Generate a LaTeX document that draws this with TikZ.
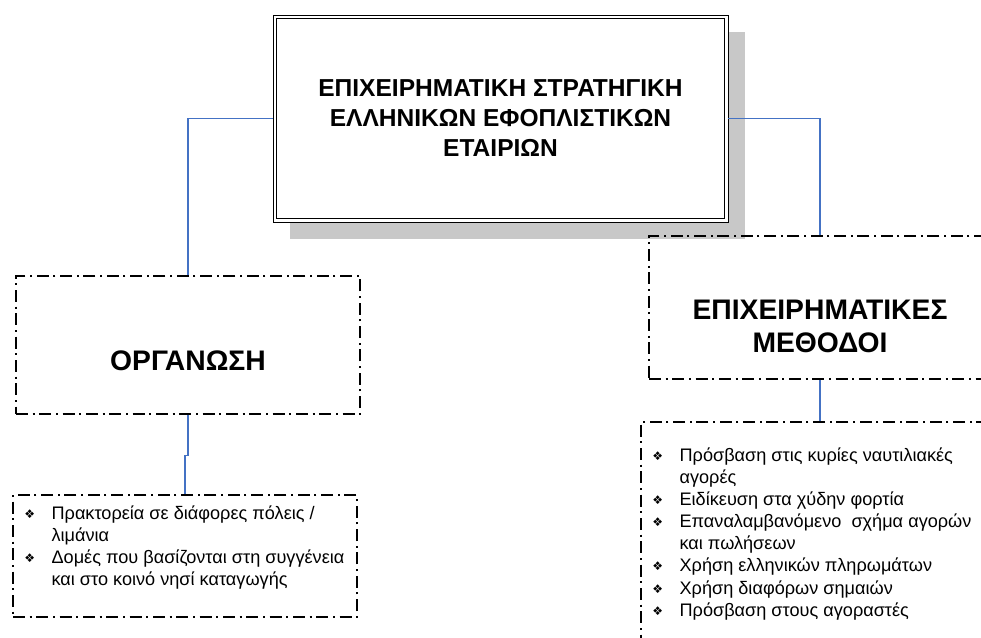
\documentclass[tikz,border=0pt]{standalone}
\usepackage{fontspec}
\setmainfont{Liberation Sans}
\newfontfamily\symfont{DejaVu Sans}
\usetikzlibrary{shadows}
\definecolor{connblue}{HTML}{4472C4}
\definecolor{shadowgray}{HTML}{C8C8C8}
\newcommand{\bul}{\makebox[20.5pt][l]{\symfont\fontsize{9pt}{9pt}\selectfont\raisebox{0.8pt}{❖}}}
\newcommand{\ind}{\hspace*{20.5pt}}
\newcommand{\topstrut}{\rule{0pt}{12pt}}
\tikzset{
  dashdot/.style={draw=black, line width=0.8pt, dash pattern=on 9pt off 3.5pt on 1.5pt off 3.5pt},
  conn/.style={draw=connblue, line width=0.8pt},
  mainbox/.style={draw=black, line width=0.7pt, fill=white, minimum width=341.25pt, minimum height=155.25pt,
    drop shadow={shadow xshift=12.75pt, shadow yshift=-12.75pt, fill=shadowgray, opacity=1}},
  titletext/.style={align=center, font=\bfseries\fontsize{18.4pt}{22.5pt}\selectfont},
  headtext/.style={align=center, font=\bfseries\fontsize{21.2pt}{24.75pt}\selectfont},
  listtext/.style={align=left, font=\fontsize{13.6pt}{16.6pt}\selectfont, inner sep=0pt}
}
\begin{document}
\begin{tikzpicture}[x=0.75pt,y=-0.75pt]
\useasboundingbox (0,0) rectangle (981,637);
\clip (0,0) rectangle (981,637);
% main box
\node[mainbox] (main) at (500.5,118.5) {};
\draw[line width=1.4pt] ([shift={(4,4)}]main.north west) rectangle ([shift={(-4,-4)}]main.south east);
\node[titletext] (maint) at (main.center) {ΕΠΙΧΕΙΡΗΜΑΤΙΚΗ ΣΤΡΑΤΗΓΙΚΗ\\ΕΛΛΗΝΙΚΩΝ ΕΦΟΠΛΙΣΤΙΚΩΝ\\ΕΤΑΙΡΙΩΝ};
% second level boxes
\node[dashdot, minimum width=258pt, minimum height=103.5pt] (org) at (188,345) {};
\node[headtext] (orgt) at (188,361) {ΟΡΓΑΝΩΣΗ};
\node[dashdot, minimum width=256.5pt, minimum height=107.25pt] (meth) at (820,307.5) {};
\node[headtext] (metht) at (820,326.5) {ΕΠΙΧΕΙΡΗΜΑΤΙΚΕΣ\\ΜΕΘΟΔΟΙ};
% list boxes
\node[dashdot, minimum width=258pt, minimum height=91.5pt] (l1) at (185,556) {};
\node[listtext, anchor=north west] (l1t) at (24,503) {\topstrut\bul Πρακτορεία σε διάφορες πόλεις /\\\ind λιμάνια\\\bul Δομές που βασίζονται στη συγγένεια\\\ind και στο κοινό νησί καταγωγής};
\node[dashdot, minimum width=268.5pt, minimum height=178.5pt] (l2) at (820,541) {};
\node[listtext, anchor=north west] (l2t) at (652,445) {\topstrut\bul Πρόσβαση στις κυρίες ναυτιλιακές\\\ind αγορές\\\bul Ειδίκευση στα χύδην φορτία\\\bul Επαναλαμβανόμενο\ \ σχήμα αγορών\\\ind και πωλήσεων\\\bul Χρήση ελληνικών πληρωμάτων\\\bul Χρήση διαφόρων σημαιών\\\bul Πρόσβαση στους αγοραστές};
% connectors
\draw[conn] (main.west) -| (org.north);
\draw[conn] (main.east) -| (meth.north);
\draw[conn] (org.south) -- ++(0,41) -| (l1.north);
\draw[conn] (meth.south) -- (l2.north);
\end{tikzpicture}
\end{document}
